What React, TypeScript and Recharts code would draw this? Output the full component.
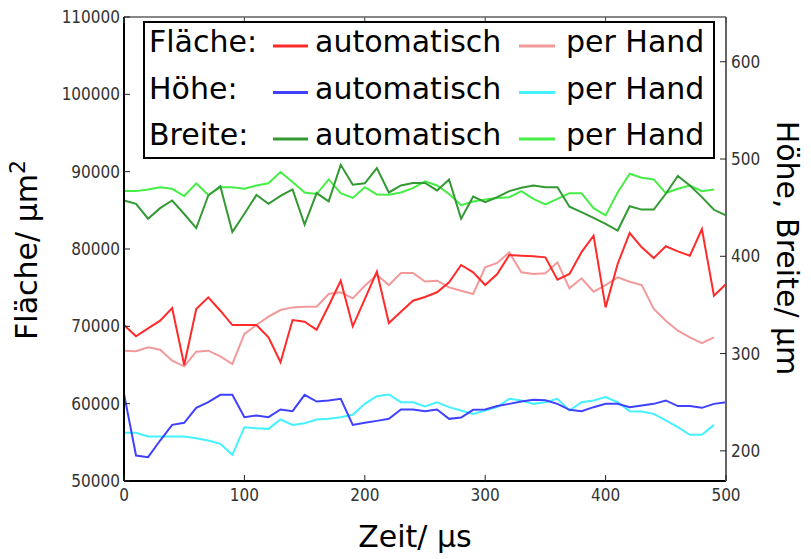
import React from 'react';
import { LineChart, Line, XAxis, YAxis, Legend, ReferenceLine } from 'recharts';

const zeit = [0, 10, 20, 30, 40, 50, 60, 70, 80, 90, 100, 110, 120, 130, 140, 150, 160, 170, 180, 190, 200, 210, 220, 230, 240, 250, 260, 270, 280, 290, 300, 310, 320, 330, 340, 350, 360, 370, 380, 390, 400, 410, 420, 430, 440, 450, 460, 470, 480, 490, 500];

const flaecheAuto = [70170, 68710, 69740, 70730, 72370, 65000, 72240, 73750, 72020, 70170, 70170, 70170, 68580, 65350, 70820, 70600, 69560, 72670, 75900, 70000, 73530, 77070, 70430, 71890, 73310, 73800, 74400, 75690, 77930, 76980, 75340, 76770, 79220, 79130, 79050, 78920, 76030, 76770, 79600, 81720, 72450, 78060, 82070, 80220, 78830, 80350, 79700, 79130, 82580, 73960, 75470];

const flaecheHand = [66850, 66770, 67280, 66980, 65560, 64830, 66720, 66850, 66120, 65130, 69010, 70170, 71250, 72110, 72450, 72540, 72540, 74180, 74400, 73620, 75250, 76640, 75340, 76900, 76900, 75800, 75900, 75040, 74610, 74180, 77630, 78190, 79570, 76980, 76770, 76850, 78280, 74910, 76210, 74480, 75340, 76340, 75770, 75340, 72240, 70730, 69430, 68580, 67840, 68580];

const hoeheAuto = [258.6, 195.2, 193.5, 210.6, 226.7, 228.8, 244.2, 250, 257.6, 257.6, 234.6, 236.3, 234.6, 242.5, 240.8, 257.6, 250.7, 251.8, 253.5, 226.7, 228.8, 230.8, 232.9, 242.5, 242.5, 240.8, 242.5, 232.9, 234.3, 242.2, 242.5, 246, 248.3, 250.7, 252.4, 252, 248.3, 242.2, 240.8, 244.9, 248.3, 248.3, 244.9, 246.6, 248.3, 251.8, 246, 246, 244.2, 248.3, 250];

const hoeheHand = [218.5, 218.5, 214.7, 214.7, 214.7, 214.7, 213, 210.6, 207.2, 195.9, 224.3, 223.3, 222.6, 232.2, 226.7, 228.4, 232.2, 232.9, 234.6, 237, 248.3, 256.2, 257.9, 250, 250, 245.6, 250, 244.9, 241.4, 238, 241.4, 244.9, 253.5, 251.8, 248.3, 250, 253.5, 241.4, 250, 251.8, 255.2, 250, 240.8, 240.5, 238, 231.2, 224.3, 216.5, 216.5, 226.7];

const breiteAuto = [457.4, 454, 438.6, 449.5, 457.4, 443.5, 429, 462.5, 472, 425, 443.7, 463, 454, 462, 468.7, 432.7, 465, 456.4, 494, 473.5, 475, 490.7, 465.6, 472.8, 475.4, 475.4, 467.7, 479, 438.6, 461.5, 455.7, 460.8, 467, 470.4, 472.8, 471, 471, 451, 445.4, 439.6, 433.4, 426.5, 451.4, 448, 448, 464.3, 482.5, 472.8, 460.8, 447.8, 442];

const breiteHand = [467, 467, 468.7, 471, 469.4, 462, 475, 463, 471, 471, 469.4, 472.8, 475, 486.6, 476.3, 465.6, 464, 479, 465, 460, 471, 463.6, 463.3, 465.6, 470, 477, 472.8, 464, 452.6, 456.4, 458.4, 460, 460.8, 467, 459, 453.3, 459, 464.9, 464.9, 449.5, 442, 465.6, 484.8, 480.7, 479, 465, 469.4, 472.8, 467, 468.7];

const xTicks = [0, 100, 200, 300, 400, 500];
const leftTicks = [50000, 60000, 70000, 80000, 90000, 100000, 110000];
const rightTicks = [200, 300, 400, 500, 600];

const data = zeit.map((t, i) => ({
  t,
  fa: flaecheAuto[i],
  fh: flaecheHand[i] ?? null,
  ha: hoeheAuto[i],
  hh: hoeheHand[i] ?? null,
  ba: breiteAuto[i],
  bh: breiteHand[i] ?? null,
}));

const COLORS = {
  fa: '#ff2a2a',
  fh: '#f29a9a',
  ha: '#4040ff',
  hh: '#44f2ff',
  ba: '#339933',
  bh: '#44ee44',
};

const tickFont = "'DejaVu Sans Condensed', 'DejaVu Sans', sans-serif";
const bigFont = "'DejaVu Sans', sans-serif";

const PLOT = { left: 124, right: 726, top: 17, bottom: 481 };

const LeftTick = (props: any) => {
  const { y, payload } = props;
  return (
    <g>
      <line x1={PLOT.left} x2={PLOT.left + 6} y1={y} y2={y} stroke="#222" strokeWidth={1} />
      <text x={PLOT.left - 4} y={y} dy="0.36em" textAnchor="end" fontSize={17} fill="#333" fontFamily={tickFont} style={{ fontStretch: 'condensed' }}>
        {payload.value}
      </text>
    </g>
  );
};

const RightTick = (props: any) => {
  const { y, payload } = props;
  return (
    <g>
      <line x1={PLOT.right - 6} x2={PLOT.right} y1={y} y2={y} stroke="#222" strokeWidth={1} />
      <text x={PLOT.right + 5} y={y} dy="0.36em" textAnchor="start" fontSize={17} fill="#333" fontFamily={tickFont} style={{ fontStretch: 'condensed' }}>
        {payload.value}
      </text>
    </g>
  );
};

const BottomTick = (props: any) => {
  const { x, payload } = props;
  return (
    <g>
      <line x1={x} x2={x} y1={PLOT.bottom} y2={PLOT.bottom - 6} stroke="#222" strokeWidth={1} />
      <line x1={x} x2={x} y1={PLOT.top} y2={PLOT.top + 6} stroke="#444" strokeWidth={1} />
      <text x={x} y={PLOT.bottom + 14} dy="0.36em" textAnchor="middle" fontSize={17} fill="#333" fontFamily={tickFont} style={{ fontStretch: 'condensed' }}>
        {payload.value}
      </text>
    </g>
  );
};

const legendRows = [
  { label: 'Fläche:', auto: COLORS.fa, hand: COLORS.fh },
  { label: 'Höhe:', auto: COLORS.ha, hand: COLORS.hh },
  { label: 'Breite:', auto: COLORS.ba, hand: COLORS.bh },
];
const legendAuto = 'automatisch';
const legendHand = 'per Hand';

const LegendBox = () => (
  <svg width={572} height={138} style={{ display: 'block' }}>
    <rect x={1} y={1} width={570} height={136} fill="#fff" stroke="#000" strokeWidth={2} />
    {legendRows.map((r, i) => {
      const base = 31 + i * 46.5;
      return (
        <g key={r.label}>
          <text x={6} y={base} fontSize={30} fontFamily={bigFont} fill="#000">{r.label}</text>
          <line x1={130} x2={165} y1={base - 6} y2={base - 6} stroke={r.auto} strokeWidth={3} />
          <text x={172} y={base} fontSize={30} fontFamily={bigFont} fill="#000">{legendAuto}</text>
          <line x1={376} x2={412} y1={base - 6} y2={base - 6} stroke={r.hand} strokeWidth={3} />
          <text x={423} y={base} fontSize={30} fontFamily={bigFont} fill="#000">{legendHand}</text>
        </g>
      );
    })}
  </svg>
);

export default function App() {
  return (
    <div style={{ position: 'absolute', left: 0, top: 0, width: 811, height: 559, background: '#fff' }}>
      <LineChart width={811} height={559} data={data} margin={{ top: PLOT.top, right: 0, bottom: 0, left: 0 }}>
        <XAxis
          dataKey="t"
          type="number"
          domain={[0, 500]}
          ticks={xTicks}
          interval={0}
          height={559 - PLOT.bottom}
          axisLine={{ stroke: '#000', strokeWidth: 2 }}
          tickLine={false}
          tick={<BottomTick />}
          label={{
            content: () => (
              <text x={415} y={547} textAnchor="middle" fontSize={30} fontFamily={bigFont} fill="#000">Zeit/ μs</text>
            ),
          }}
        />
        <YAxis
          yAxisId="left"
          orientation="left"
          width={PLOT.left}
          domain={[50000, 110000]}
          ticks={leftTicks}
          interval={0}
          axisLine={{ stroke: '#000', strokeWidth: 2 }}
          tickLine={false}
          tick={<LeftTick />}
          label={{
            content: () => (
              <text x={37} y={250} transform="rotate(-90 37 250)" textAnchor="middle" fontSize={30} fontFamily={bigFont} fill="#000">
                Fläche/ μm<tspan fontSize={22} dy={-12}>2</tspan>
              </text>
            ),
          }}
        />
        <YAxis
          yAxisId="right"
          orientation="right"
          width={811 - PLOT.right}
          domain={[169, 646]}
          ticks={rightTicks}
          interval={0}
          axisLine={{ stroke: '#666', strokeWidth: 2 }}
          tickLine={false}
          tick={<RightTick />}
          label={{
            content: () => (
              <text x={777} y={248} transform="rotate(90 777 248)" textAnchor="middle" fontSize={30} fontFamily={bigFont} fill="#000">Höhe, Breite/ μm</text>
            ),
          }}
        />
        <ReferenceLine yAxisId="left" y={110000} stroke="#888" strokeWidth={2} />
        <Line yAxisId="left" dataKey="fh" stroke={COLORS.fh} strokeWidth={2} dot={false} isAnimationActive={false} />
        <Line yAxisId="left" dataKey="fa" stroke={COLORS.fa} strokeWidth={2} dot={false} isAnimationActive={false} />
        <Line yAxisId="right" dataKey="hh" stroke={COLORS.hh} strokeWidth={2} dot={false} isAnimationActive={false} />
        <Line yAxisId="right" dataKey="ha" stroke={COLORS.ha} strokeWidth={2} dot={false} isAnimationActive={false} />
        <Line yAxisId="right" dataKey="bh" stroke={COLORS.bh} strokeWidth={2} dot={false} isAnimationActive={false} />
        <Line yAxisId="right" dataKey="ba" stroke={COLORS.ba} strokeWidth={2} dot={false} isAnimationActive={false} />
        <Legend
          layout="horizontal"
          verticalAlign="middle"
          align="center"
          content={() => <LegendBox />}
          wrapperStyle={{ left: 143, top: 21, width: 572, height: 138 }}
        />
      </LineChart>
    </div>
  );
}
